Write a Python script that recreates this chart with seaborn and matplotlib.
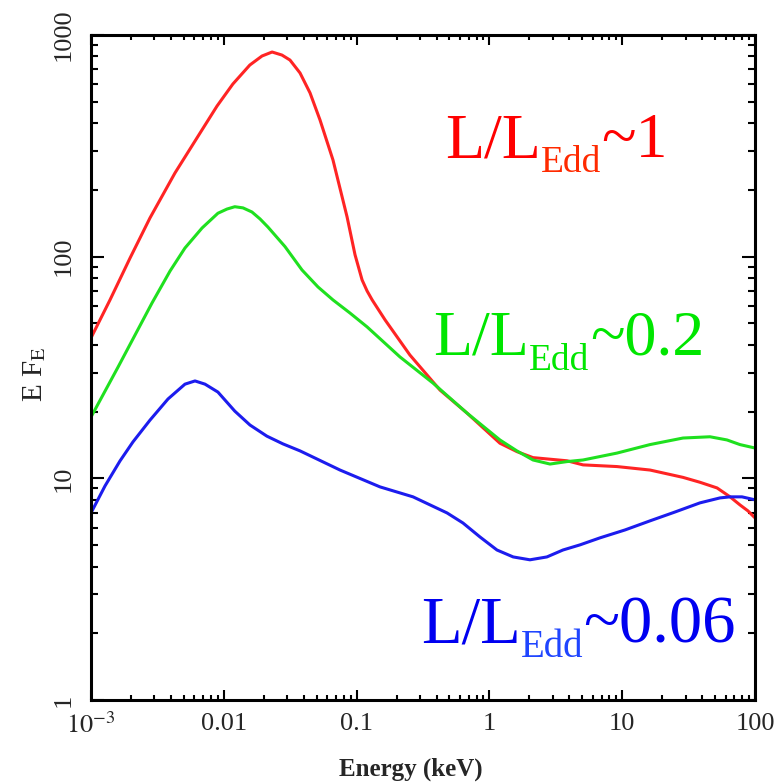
import numpy as np
import pandas as pd
import matplotlib
matplotlib.use("Agg")
import matplotlib.pyplot as plt
import seaborn as sns
from matplotlib.ticker import LogLocator, FixedLocator, FixedFormatter, NullFormatter

# ---- data ----
red_energy = [0.001, 0.00139, 0.00197, 0.00278, 0.00429, 0.00662, 0.00889, 0.0117, 0.0157,
              0.0194, 0.0231, 0.0274, 0.0315, 0.0375, 0.0446, 0.0530, 0.0664, 0.0848, 0.0973,
              0.110, 0.120, 0.131, 0.164, 0.252, 0.425, 0.678, 1.20, 1.61, 2.13, 3.84, 5.07,
              9.14, 16.2, 28.7, 38.5, 51.8, 64.9, 77.0, 88.5, 100]
red_flux = [43.0, 63.8, 98.7, 149.5, 238.6, 361, 478, 601, 732,
            804, 838, 812, 771, 674, 548, 414, 273, 151, 102,
            78.5, 70.0, 63.8, 51.8, 36.0, 25.0, 19.7, 14.4, 13.2, 12.4, 12.0, 11.5,
            11.3, 10.9, 10.1, 9.6, 9.05, 8.25, 7.59, 7.13, 6.63]

green_energy = [0.001, 0.0016, 0.00288, 0.00394, 0.0051, 0.00686, 0.00903, 0.01057, 0.0121,
                0.01395, 0.0163, 0.01874, 0.0215, 0.0289, 0.0388, 0.0512, 0.0664, 0.0891,
                0.120, 0.212, 0.376, 0.678, 1.20, 1.61, 2.13, 2.86, 3.84, 5.07, 9.14, 16.2,
                28.7, 45.8, 61.5, 77.0, 100]
green_flux = [18.9, 31.8, 61.8, 86.2, 109.4, 134.7, 157, 164, 168,
              166, 159, 148, 136, 111, 87.1, 73.0, 63.8, 55.7,
              48.2, 35.3, 26.9, 19.7, 14.9, 13.3, 12.1, 11.6, 11.9, 12.1, 13.0, 14.2,
              15.2, 15.4, 14.9, 14.2, 13.7]

blue_energy = [0.001, 0.001275, 0.001653, 0.00207, 0.00278, 0.0038, 0.0051, 0.00607, 0.00722,
               0.00903, 0.0121, 0.01574, 0.0211, 0.0279, 0.0375, 0.0750, 0.150, 0.266, 0.480,
               0.632, 0.849, 1.14, 1.51, 2.02, 2.71, 3.58, 4.81, 6.81, 10.5, 16.2, 25.0,
               38.5, 54.5, 64.9, 79.8, 100]
blue_flux = [6.98, 9.24, 11.98, 14.6, 18.3, 22.8, 26.6, 27.5, 26.6,
             24.5, 20.1, 17.4, 15.5, 14.3, 13.3, 10.9, 9.15, 8.25, 6.98,
             6.29, 5.44, 4.75, 4.42, 4.29, 4.42, 4.75, 5.01, 5.39, 5.85, 6.43, 7.05,
             7.75, 8.16, 8.25, 8.25, 8.0]

series_names = ["~1", "~0.2", "~0.06"]
line_colors = ["#ff2424", "#1fe01f", "#1c1cee"]

x_ticks = [1e-3, 1e-2, 1e-1, 1, 10, 100]
x_tick_labels = [r"$10^{-3}$", "0.01", "0.1", "1", "10", "100"]
y_ticks = [1, 10, 100, 1000]
y_tick_labels = ["1", "10", "100", "1000"]

# ---- style ----
sns.set_style("ticks")
plt.rcParams["font.family"] = ["Liberation Serif", "DejaVu Serif"]
plt.rcParams["mathtext.fontset"] = "stix"

fig = plt.figure(figsize=(7.82, 7.83), dpi=100)
ax = fig.add_axes([91 / 782, 1 - 700 / 783, 664 / 782, 665 / 783])

df = pd.concat([
    pd.DataFrame({"energy": red_energy, "flux": red_flux, "series": series_names[0]}),
    pd.DataFrame({"energy": green_energy, "flux": green_flux, "series": series_names[1]}),
    pd.DataFrame({"energy": blue_energy, "flux": blue_flux, "series": series_names[2]}),
], ignore_index=True)

sns.lineplot(data=df, x="energy", y="flux", hue="series",
             palette=dict(zip(series_names, line_colors)),
             estimator=None, sort=False, linewidth=2.2, legend=False, ax=ax)
for ln in ax.get_lines():
    ln.set_solid_joinstyle("round")

ax.set_xscale("log")
ax.set_yscale("log")
ax.set_xlim(1e-3, 100)
ax.set_ylim(1, 1000)

ax.xaxis.set_major_locator(FixedLocator(x_ticks))
ax.xaxis.set_major_formatter(FixedFormatter(x_tick_labels))
ax.xaxis.set_minor_locator(LogLocator(base=10, subs=np.arange(2, 10), numticks=100))
ax.xaxis.set_minor_formatter(NullFormatter())
ax.yaxis.set_major_locator(FixedLocator(y_ticks))
ax.yaxis.set_major_formatter(FixedFormatter(y_tick_labels))
ax.yaxis.set_minor_locator(LogLocator(base=10, subs=np.arange(2, 10), numticks=100))
ax.yaxis.set_minor_formatter(NullFormatter())

ax.tick_params(which="both", direction="in", top=True, right=True, color="black", width=1.5)
ax.tick_params(axis="x", which="major", length=7.5, pad=9, labelsize=19)
ax.tick_params(axis="x", which="minor", length=3.5)
ax.tick_params(axis="y", which="major", length=9.5, pad=12, labelsize=19)
ax.tick_params(axis="y", which="minor", length=5)
for lbl in ax.get_yticklabels():
    lbl.set_rotation(90)
    lbl.set_va("center")

for sp in ax.spines.values():
    sp.set_linewidth(2.2)
    sp.set_color("black")

ax.set_xlabel("Energy (keV)", fontsize=18, fontweight="bold")
ax.xaxis.set_label_coords(0.482, -0.086)
ax.set_ylabel(r"E F$_{\rm E}$", fontsize=21)
ax.yaxis.set_label_coords(-0.064, 0.49)

# ---- labels L/L_Edd~x ----
def label(x0, yb, ys, tail, c_main, c_sub, size=46, subsize=27):
    t1 = ax.text(x0, yb, "L/L", transform=ax.transAxes, fontsize=size,
                 color=c_main, ha="left", va="baseline")
    t2 = ax.annotate("Edd", xy=(1, ys), xycoords=(t1, "axes fraction"), fontsize=subsize,
                     color=c_sub, ha="left", va="baseline")
    ax.annotate(tail, xy=(1, yb), xycoords=(t2, "axes fraction"), fontsize=size,
                color=c_main, ha="left", va="baseline")

label(0.534, 0.8165, 0.794, "~1", "#ff0000", "#ff2a00")
label(0.516, 0.519, 0.496, "~0.2", "#00e600", "#00e600")
label(0.497, 0.0872, 0.0647, "~0.06", "#0000f0", "#1f45ff", size=48, subsize=28)

fig.savefig("out.png", dpi=100)
